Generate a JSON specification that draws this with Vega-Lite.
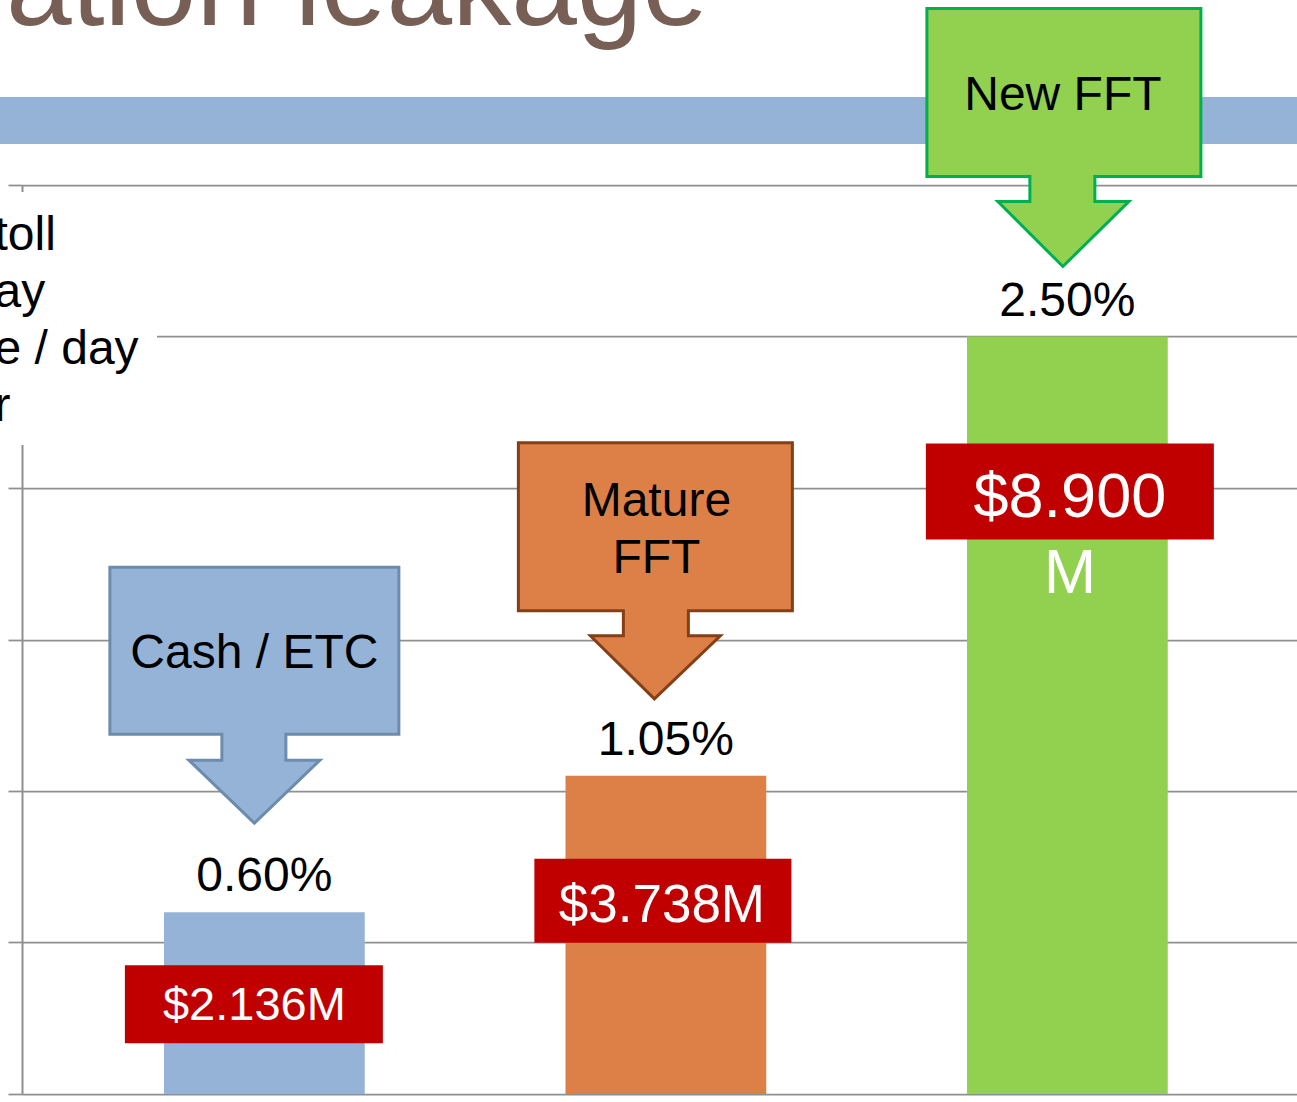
{
  "$schema": "https://vega.github.io/schema/vega-lite/v6.json",
  "width": 1275,
  "height": 909,
  "autosize": {"type": "none"},
  "padding": {"left": 22, "top": 185, "right": 0, "bottom": 8},
  "background": "#ffffff",
  "config": {"view": {"stroke": null}, "font": "Liberation Sans"},
  "title": {
    "text": "ation leakage",
    "anchor": "start",
    "frame": "group",
    "orient": "top",
    "font": "Liberation Sans",
    "fontSize": 118,
    "fontWeight": "normal",
    "color": "#775f55",
    "offset": -47,
    "dx": -16
  },
  "data": {
    "values": [
      {"channel": "Cash / ETC", "pct": 0.006, "cost": "$2.136M", "arrow_label": "Cash / ETC"},
      {"channel": "Mature FFT", "pct": 0.0105, "cost": "$3.738M", "arrow_label": ["Mature", "FFT"]},
      {"channel": "New FFT", "pct": 0.025, "cost": ["$8.900", "M"], "arrow_label": "New FFT"}
    ]
  },
  "layer": [
    {
      "data": {"values": [{"band": 0.032129}]},
      "mark": {"type": "rule", "color": "#95b3d7", "strokeWidth": 47, "strokeCap": "square"},
      "encoding": {"y": {"field": "band", "type": "quantitative"}}
    },
    {
      "data": {"values": [{"box_top": 0.029769, "box_bottom": 0.021419}]},
      "mark": {"type": "rect", "color": "#ffffff"},
      "encoding": {
        "x": {"value": -22},
        "x2": {"value": 135},
        "y": {"field": "box_top", "type": "quantitative"},
        "y2": {"field": "box_bottom"}
      }
    },
    {
      "encoding": {
        "x": {
          "field": "channel",
          "type": "nominal",
          "sort": null,
          "scale": {
            "domain": ["Cash / ETC", "Mature FFT", "New FFT"],
            "paddingInner": 0.5,
            "paddingOuter": 0.3378,
            "align": 0.5235,
            "round": false
          },
          "axis": {
            "orient": "top",
            "zindex": 1,
            "domain": false,
            "ticks": false,
            "labels": false,
            "grid": false,
            "title": ["toll", "ay", "e / day", "r"],
            "titleFont": "Liberation Sans",
            "titleFontSize": 48,
            "titleFontWeight": "normal",
            "titleColor": "#000000",
            "titleLineHeight": 57,
            "titleAlign": "left",
            "titleAnchor": "start",
            "titleBaseline": "alphabetic",
            "titleX": -28,
            "titleY": 64
          }
        },
        "y": {
          "field": "pct",
          "type": "quantitative",
          "scale": {"domain": [0, 0.03], "nice": false, "zero": true},
          "axis": {
            "values": [0, 0.005, 0.01, 0.015, 0.02, 0.025, 0.03],
            "labels": false,
            "title": null,
            "grid": true,
            "gridColor": "#8f8f8f",
            "gridWidth": 1.75,
            "ticks": true,
            "tickSize": 14,
            "tickColor": "#8f8f8f",
            "tickWidth": 1.75,
            "domain": true,
            "domainColor": "#8f8f8f",
            "domainWidth": 2
          }
        }
      },
      "layer": [
        {
          "mark": {"type": "bar"},
          "encoding": {
            "color": {
              "field": "channel",
              "type": "nominal",
              "scale": {"domain": ["Cash / ETC", "Mature FFT", "New FFT"], "range": ["#95b3d7", "#dd8047", "#92d050"]},
              "legend": null
            }
          }
        },
        {
          "mark": {"type": "text", "font": "Liberation Sans", "fontSize": 48, "color": "#000000", "baseline": "alphabetic", "dy": -21},
          "encoding": {"text": {"field": "pct", "type": "quantitative", "format": ".2%"}}
        },
        {
          "mark": {"type": "point", "filled": true, "opacity": 1, "size": 40000, "strokeWidth": 3, "strokeJoin": "miter"},
          "encoding": {
            "color": {
              "field": "channel",
              "type": "nominal",
              "scale": {"domain": ["Cash / ETC", "Mature FFT", "New FFT"], "range": ["#95b3d7", "#dd8047", "#92d050"]},
              "legend": null
            },
            "stroke": {
              "field": "channel",
              "type": "nominal",
              "scale": {"domain": ["Cash / ETC", "Mature FFT", "New FFT"], "range": ["#6c8cae", "#843f17", "#00b050"]},
              "legend": null
            },
            "shape": {
              "field": "channel",
              "type": "nominal",
              "scale": {
                "domain": ["Cash / ETC", "Mature FFT", "New FFT"],
                "range": [
                  "M-1.545,-3.45L1.345,-3.45L1.345,-1.78L0.215,-1.78L0.215,-1.52L0.555,-1.52L-0.1,-0.89L-0.755,-1.52L-0.425,-1.52L-0.425,-1.78L-1.545,-1.78Z",
                  "M-1.475,-3.33L1.265,-3.33L1.265,-1.65L0.225,-1.65L0.225,-1.4L0.545,-1.4L-0.115,-0.77L-0.755,-1.4L-0.425,-1.4L-0.425,-1.65L-1.475,-1.65Z",
                  "M-1.405,-3.28L1.335,-3.28L1.335,-1.6L0.275,-1.6L0.275,-1.35L0.615,-1.35L-0.045,-0.7L-0.695,-1.35L-0.375,-1.35L-0.375,-1.6L-1.405,-1.6Z"
                ]
              },
              "legend": null
            }
          }
        },
        {
          "transform": [{"filter": "datum.channel === 'Cash / ETC'"}],
          "mark": {"type": "text", "font": "Liberation Sans", "fontSize": 48, "color": "#000000", "baseline": "alphabetic", "dx": -10, "dy": -244},
          "encoding": {"text": {"field": "arrow_label", "type": "nominal"}}
        },
        {
          "transform": [{"filter": "datum.channel === 'Mature FFT'"}],
          "mark": {"type": "text", "font": "Liberation Sans", "fontSize": 48, "color": "#000000", "baseline": "alphabetic", "lineHeight": 57, "dx": -9.5, "dy": -260},
          "encoding": {"text": {"field": "arrow_label", "type": "nominal"}}
        },
        {
          "transform": [{"filter": "datum.channel === 'New FFT'"}],
          "mark": {"type": "text", "font": "Liberation Sans", "fontSize": 48, "color": "#000000", "baseline": "alphabetic", "dx": -4.5, "dy": -227},
          "encoding": {"text": {"field": "arrow_label", "type": "nominal"}}
        },
        {
          "transform": [{"filter": "datum.channel === 'Cash / ETC'"}],
          "mark": {"type": "point", "filled": true, "opacity": 1, "size": 40000, "color": "#c00000", "strokeWidth": 0,
            "shape": "M-1.395,0.53L1.185,0.53L1.185,1.31L-1.395,1.31Z"}
        },
        {
          "transform": [{"filter": "datum.channel === 'Mature FFT'"}],
          "mark": {"type": "point", "filled": true, "opacity": 1, "size": 40000, "color": "#c00000", "strokeWidth": 0,
            "shape": "M-1.315,0.83L1.255,0.83L1.255,1.67L-1.315,1.67Z"}
        },
        {
          "transform": [{"filter": "datum.channel === 'New FFT'"}],
          "mark": {"type": "point", "filled": true, "opacity": 1, "size": 40000, "color": "#c00000", "strokeWidth": 0,
            "shape": "M-1.415,1.07L1.465,1.07L1.465,2.03L-1.415,2.03Z"}
        },
        {
          "transform": [{"filter": "datum.channel === 'Cash / ETC'"}],
          "mark": {"type": "text", "font": "Liberation Sans", "fontSize": 47, "color": "#ffffff", "baseline": "alphabetic", "dx": -10, "dy": 108},
          "encoding": {"text": {"field": "cost", "type": "nominal"}}
        },
        {
          "transform": [{"filter": "datum.channel === 'Mature FFT'"}],
          "mark": {"type": "text", "font": "Liberation Sans", "fontSize": 53, "color": "#ffffff", "baseline": "alphabetic", "dx": -4, "dy": 146},
          "encoding": {"text": {"field": "cost", "type": "nominal"}}
        },
        {
          "transform": [{"filter": "datum.channel === 'New FFT'"}],
          "mark": {"type": "text", "font": "Liberation Sans", "fontSize": 63, "color": "#ffffff", "baseline": "alphabetic", "lineHeight": 76, "dx": 2.5, "dy": 180},
          "encoding": {"text": {"field": "cost", "type": "nominal"}}
        }
      ]
    }
  ]
}
